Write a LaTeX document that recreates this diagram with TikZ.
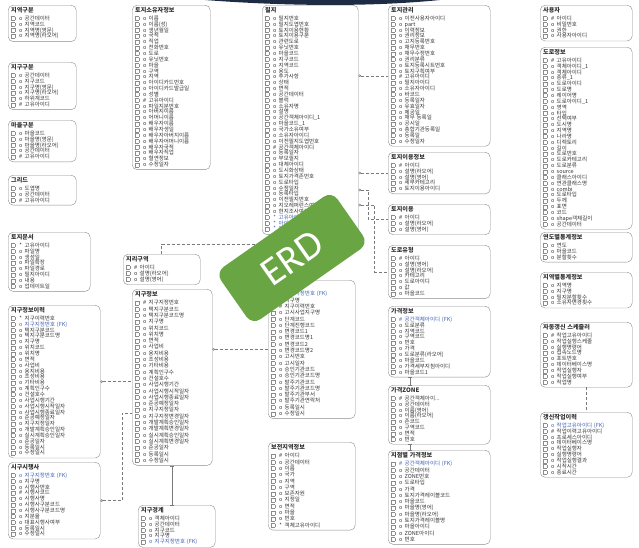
\documentclass[tikz,border=0pt]{standalone}
\usepackage{fontspec}
\setmainfont{Noto Sans CJK KR}
\newfontfamily\badgefont{Carlito}
\usetikzlibrary{arrows.meta,positioning,calc}
\definecolor{boxStroke}{HTML}{8C8C8C}
\definecolor{textMain}{HTML}{333333}
\definecolor{fkBlue}{HTML}{3F5FB5}
\definecolor{lineGray}{HTML}{7A7A7A}
\definecolor{badgeGreen}{HTML}{6AA543}
\definecolor{navyBand}{HTML}{1E2B45}
\setlength{\unitlength}{1pt}
\newcommand\rowfont{\fontsize{5.5}{5.85}\selectfont}
\newcommand\ckbox{\begin{picture}(5,3.6)\put(0,0){{\color{boxStroke}\framebox(3.6,3.6){}}}\end{picture}}
\newcommand\rowx[2]{\ckbox\hspace{2.5pt}\makebox[4pt][c]{#1}\hspace{2pt}#2}
\newcommand\fo[1]{\rowx{o}{#1}}
\newcommand\fk[1]{\rowx{\#}{#1}}
\newcommand\fs[1]{\rowx{*}{#1}}
\newcommand\bo[1]{\rowx{\color{fkBlue}o}{\textcolor{fkBlue}{#1}}}
\newcommand\bk[1]{\rowx{\color{fkBlue}\#}{\textcolor{fkBlue}{#1}}}
\newcommand\bs[1]{\rowx{\color{fkBlue}*}{\textcolor{fkBlue}{#1}}}
\newcommand\etitle[1]{{\fontsize{6.1}{5.85}\selectfont\bfseries #1}\\[1.6pt]}

\begin{document}
\begin{tikzpicture}[
    x=1pt, y=-1pt,
    font=\rowfont,
    >=Stealth,
    entNode/.style={
        draw=boxStroke, fill=white,
        rounded corners=5pt,
        anchor=north west,
        align=left, text=textMain,
        inner xsep=3pt, inner ysep=2.6pt,
        text width=#1
    },
    loose/.style={font=\fontsize{5.5}{6.3}\selectfont},
    badge/.style={
        fill=badgeGreen, rounded corners=10pt,
        minimum width=142pt, minimum height=64pt,
        inner sep=0pt, text=white,
        font=\badgefont\fontsize{40}{40}\selectfont
    },
    rel/.style={densely dashed, draw=lineGray, line width=0.45pt},
    idRel/.style={draw=lineGray, line width=0.5pt},
    ring/.style={{Circle[open,length=2.6pt]}-}
]
\useasboundingbox (0,0) rectangle (639,547);

% slide band at the top edge
\fill[navyBand] (205,0) .. controls (270,5) and (360,8) .. (440,0) -- cycle;

% left column
\node[entNode=62pt] (Region) at (8,5) {\etitle{지역구분}
  \fo{공간데이터}\\\fo{지역코드}\\\fo{지역명(영문)}\\\fo{지역명(라오어)}};
\node[entNode=62pt] (District) at (8,62) {\etitle{지구구분}
  \fo{공간데이터}\\\fo{지구코드}\\\fo{지구명(영문)}\\\fo{지구명(라오어)}\\\fo{하위계코드}\\\fk{고유아이디}};
\node[entNode=62pt] (Village) at (8,120) {\etitle{마을구분}
  \fo{마을코드}\\\fo{마을명(영문)}\\\fo{마을명(라오어)}\\\fo{공간데이터}\\\fk{고유아이디}};
\node[entNode=62pt] (Grid) at (8,175) {\etitle{그리드}
  \fo{도엽명}\\\fo{공간데이터}\\\fk{고유아이디}};
\node[entNode=76pt] (LandDoc) at (8,232) {\etitle{토지문서}
  \fs{고유아이디}\\\fo{파일명}\\\fo{생성일}\\\fo{파일확장}\\\fo{파일경로}\\\fo{필지아이디}\\\fo{내용}\\\fo{업데이트일}};
\node[entNode=86pt] (DistHist) at (8,305) {\etitle{지구정보이력}
  \fs{지구이력번호}\\\bo{지구지정번호 (FK)}\\\fo{택지구분코드}\\\fo{택지구분코드명}\\\fo{지구명}\\\fo{위치코드}\\
  \fo{위치명}\\\fo{면적}\\\fo{사업비}\\\fo{용지비용}\\\fo{조성비용}\\\fo{기타비용}\\\fo{계획인구수}\\\fo{건설호수}\\
  \fo{사업시행기간}\\\fo{사업시행시작일자}\\\fo{사업시행종료일자}\\\fo{준공예정일자}\\\fo{지구지정일자}\\
  \fo{개발계획승인일자}\\\fo{실시계획승인일자}\\\fo{준공일자}\\\fo{등록일시}\\\fo{수정일시}};
\node[entNode=86pt] (Developer) at (8,462) {\etitle{시구시행사}
  \bo{지구지정번호 (FK)}\\\fo{지구명}\\\fo{시행사번호}\\\fk{시행사코드}\\\fo{시행사명}\\\fo{시행사구분코드}\\
  \fo{시행사구분코드명}\\\fo{지분율}\\\fo{대표시행사여부}\\\fo{등록일시}\\\fo{수정일시}};

% second column
\node[entNode=72pt] (Owner) at (132,5) {\etitle{토지소유자정보}
  \fo{이름}\\\fo{이름(성)}\\\fo{생년월일}\\\fo{국적}\\\fo{직업}\\\fo{전화번호}\\\fo{도로}\\\fo{유닛번호}\\\fo{마을}\\
  \fo{구역}\\\fo{지역}\\\fo{아이디카드번호}\\\fo{아이디카드발급일}\\\fo{성별}\\\fk{고유아이디}\\\fo{파일지분번호}\\
  \fo{아버지이름}\\\fo{어머니이름}\\\fo{배우자이름}\\\fo{배우자생일}\\\fo{배우자아버지이름}\\\fo{배우자어머니이름}\\
  \fo{배우자국적}\\\fo{배우자직업}\\\fo{혈연정보}\\\fo{수정일자}};
\node[entNode=71pt] (GeoZone) at (123,254) {\etitle{지리구역}
  \fk{아이디}\\\fo{설명(라오어)}\\\fo{설명(영어)}};
\node[entNode=74pt, loose] (DistInfo) at (132,289) {\etitle{지구정보}
  \fk{지구지정번호}\\\fo{택지구분코드}\\\fo{택지구분코드명}\\\fo{지구명}\\\fo{위치코드}\\\fo{위치명}\\\fo{면적}\\
  \fo{사업비}\\\fo{용지비용}\\\fo{조성비용}\\\fo{기타비용}\\\fo{계획인구수}\\\fo{건설호수}\\\fo{사업시행기간}\\
  \fo{사업시행시작일자}\\\fo{사업시행종료일자}\\\fo{준공예정일자}\\\fo{지구지정일자}\\\fo{지구지정변경일자}\\
  \fo{개발계획승인일자}\\\fo{개발계획변경일자}\\\fo{실시계획승인일자}\\\fo{실시계획변경일자}\\\fo{준공일자}\\
  \fo{등록일시}\\\fo{수정일시}};
\node[entNode=71pt] (DistBound) at (138,505) {\etitle{지구경계}
  \fo{객체아이디}\\\fo{공간데이터}\\\fo{지구코드}\\\fo{지구명}\\\bo{지구지정번호 (FK)}};

% third column
\node[entNode=90pt] (Parcel) at (262,5) {\etitle{필지}
  \fo{필지번호}\\\fo{필지도엽번호}\\\fo{토지이용현황}\\\fo{토지이용구분}\\\fo{관련도로}\\\fo{유닛번호}\\\fo{마을코드}\\
  \fo{지구코드}\\\fo{지역코드}\\\fo{용도}\\\fo{추가사항}\\\fo{상태}\\\fo{면적}\\\fo{공간데이터}\\\fo{블럭}\\\fo{소유자명}\\
  \fo{설명}\\\fo{공간객체아이디\_1}\\\fo{마을코드\_1}\\\fo{국가소유여부}\\\fo{소유자아이디}\\\fo{이전필지도엽번호}\\
  \fk{공간객체아이디}\\\fo{등록일자}\\\fo{부모필지}\\\fo{대체아이디}\\\fo{도시화상태}\\\fo{토지가격존번호}\\\fo{도로타입}\\
  \fo{수정일자}\\\fo{등록타입}\\\fo{이전필지번호}\\\fo{지오레퍼런스여부}\\\fo{현지조사여부}\\\bs{고유아이디}\\
  \bs{아이디 (FK)}\\\bs{아이디 (FK)}};
\node[entNode=81pt, loose] (StageInfo) at (268,280) {\etitle{단계정보}
  \bo{지구지정번호 (FK)}\\\fo{지구명}\\\fk{지구이력번호}\\\fo{고시사업지구명}\\\fo{단계코드}\\\fo{단계진행코드}\\
  \fo{변경코드1}\\\fo{변경코드명1}\\\fo{변경코드2}\\\fo{변경코드명2}\\\fo{고시번호}\\\fo{고시일자}\\\fo{승인기관코드}\\
  \fo{승인기관코드명}\\\fo{발주기관코드}\\\fo{발주기관코드명}\\\fo{발주기관부서}\\\fo{발주기관연락처}\\\fo{등록일시}\\
  \fo{수정일시}};
\node[entNode=81pt, loose] (Reserve) at (268,442) {\etitle{보전지역정보}
  \fk{아이디}\\\fo{공간데이터}\\\fo{이름}\\\fo{국가}\\\fo{지역}\\\fo{구역}\\\fo{보존자원}\\\fo{지정일}\\\fo{면적}\\
  \fo{마을}\\\fo{번호}\\\fs{객체고유아이디}};

% fourth column
\node[entNode=96pt] (LandMgmt) at (388,5) {\etitle{토지관리}
  \fo{이전사용자아이디}\\\fo{part}\\\fo{이력정보}\\\fo{권리정보}\\\fo{고지등록번호}\\\fo{채무번호}\\\fo{채무수정번호}\\
  \fo{권리분류}\\\fo{토지등록시트번호}\\\fo{토지구획여부}\\\fk{고유아이디}\\\fo{필지아이디}\\\fo{소유자아이디}\\
  \fo{바코드}\\\fo{등록일자}\\\fo{유효일자}\\\fo{제공일}\\\fo{채무 등록일}\\\fo{공시일}\\\fo{총합기관등록일}\\
  \fo{등록일}\\\fo{수정일자}};
\node[entNode=96pt] (LandUseInfo) at (388,152) {\etitle{토지이용정보}
  \fk{아이디}\\\fo{설명(라오어)}\\\fo{설명(영어)}\\\fo{세부카테고리}\\\fo{토지이용아이디}};
\node[entNode=96pt] (LandUse) at (388,204) {\etitle{토지이용}
  \fk{아이디}\\\fo{설명(라오어)}\\\fo{설명(영어)}};
\node[entNode=96pt] (RoadType) at (388,245) {\etitle{도로유형}
  \fk{아이디}\\\fo{설명(영어)}\\\fo{설명(라오어)}\\\fo{카테고리}\\\fo{도로아이디}\\\fo{값}\\\fo{마을코드}};
\node[entNode=96pt] (PriceInfo) at (388,306) {\etitle{가격정보}
  \bk{공간객체아이디 (FK)}\\\fo{도로분류}\\\fo{지역코드}\\\fo{구역코드}\\\fo{번호}\\\fo{가격}\\\fo{도로분류(라오어)}\\
  \fo{마을코드}\\\fo{가격세부지침아이디}\\\fo{마을코드1}};
\node[entNode=96pt] (PriceZone) at (388,385) {\etitle{가격ZONE}
  \fk{공간객체아이...}\\\fo{공간데이터}\\\fo{이름(영어)}\\\fo{이름(라오어)}\\\fo{존코드}\\\fo{구역코드}\\\fo{면적}\\\fo{번호}};
\node[entNode=96pt, loose] (PointPrice) at (388,450) {\etitle{지점별 가격정보}
  \bk{공간객체아이디 (FK)}\\\fo{공간데이터}\\\fo{ZONE번호}\\\fo{도로타입}\\\fo{가격}\\\fo{토지가격레이블코드}\\
  \fo{마을코드}\\\fo{마을명(영어)}\\\fo{마을명(라오어)}\\\fo{토지가격레이블명}\\\fo{마을아이디}\\\fo{ZONE아이디}\\\fo{번호}};

% right column
\node[entNode=86pt] (User) at (540,5) {\etitle{사용자}
  \fk{아이디}\\\fo{비밀번호}\\\fo{권한}\\\fo{사용자아이디}};
\node[entNode=86pt] (RoadInfo) at (540,47) {\etitle{도로정보}
  \fk{고유아이디}\\\fo{객체아이디\_1}\\\fo{객체아이디}\\\fo{종류\_1}\\\fo{도로아이디}\\\fo{도로명}\\\fo{레이어명}\\
  \fo{도로아이디\_1}\\\fo{영역}\\\fo{타입}\\\fo{선택여부}\\\fo{도시명}\\\fo{지역명}\\\fo{나라명}\\\fo{디렉토리}\\\fo{길이}\\
  \fo{도로번호}\\\fo{도로카테고리}\\\fo{도로분류}\\\fo{source}\\\fo{클래스아이디}\\\fo{연관클래스명}\\\fo{combi}\\
  \fo{도로타입}\\\fo{두께}\\\fo{표면}\\\fo{코드}\\\fo{shape객체길이}\\\fo{공간데이터}};
\node[entNode=86pt] (YearStat) at (540,232) {\etitle{연도별통계정보}
  \fo{연도}\\\fo{마을코드}\\\fo{분할횟수}};
\node[entNode=86pt] (AreaStat) at (540,272) {\etitle{지역별통계정보}
  \fo{지역명}\\\fo{지구명}\\\fo{필지분할횟수}\\\fo{소유자변경횟수}};
\node[entNode=86pt] (Scheduler) at (540,322) {\etitle{자동갱신 스케줄러}
  \fk{작업고유아이디}\\\fo{작업실행스케줄}\\\fo{실행명령어}\\\fo{접속노드명}\\\fo{포트번호}\\\fo{데이터베이스명}\\
  \fo{작업실행자}\\\fo{작업실행여부}\\\fo{작업명}};
\node[entNode=86pt] (JobHist) at (540,412) {\etitle{갱신작업이력}
  \bo{작업고유아이디 (FK)}\\\fk{작업이력고유아이디}\\\fo{프로세스아이디}\\\fo{데이터베이스명}\\\fo{작업실행자}\\
  \fo{실행명령어}\\\fo{작업실행결과}\\\fo{시작시간}\\\fo{종료시간}};

% relations
\draw[rel, ring] (Parcel.east |- LandMgmt.west) -- (LandMgmt.west);
\draw[rel, ring] (Parcel.east |- LandUseInfo.west) -- (LandUseInfo.west);
\draw[rel, ring] ($(Parcel.north east)+(0,185)$) -- ++(10,0) |- (LandUse.west);
\draw[rel, ring] ($(Parcel.north east)+(0,200)$) -- ++(16,0) |- (RoadType.west);
\coordinate (GeoTurn) at (300,244);
\draw[rel] (GeoZone.north) |- (GeoTurn) -- (GeoTurn |- Parcel.south);
\draw[rel, ring] (DistHist.east) -- (DistHist.east -| DistInfo.west);
\draw[rel, ring] (DistInfo.east |- StageInfo.west) -- (StageInfo.west);
\draw[rel, ring] (Developer.east) -- ++(22,0) |- ($(DistInfo.west)+(0,36)$);
\draw[idRel, {Bar[width=4pt]}-{Bar[width=4pt]}] (DistInfo.south) -- (DistInfo.south |- DistBound.north);
\draw[idRel, {Bar[width=4pt]}-{Bar[width=4pt]}] ($(PriceInfo.south west)+(22,0)$) -- ($(PriceZone.north west)+(22,0)$);
\draw[idRel, {Bar[width=4pt]}-{Bar[width=4pt]}] ($(PriceZone.south west)+(22,0)$) -- ($(PointPrice.north west)+(22,0)$);
\draw[rel] (Scheduler.south) -- (JobHist.north);

\node[badge, rotate=35] (Badge) at (292,258) {ERD};
\end{tikzpicture}
\end{document}
